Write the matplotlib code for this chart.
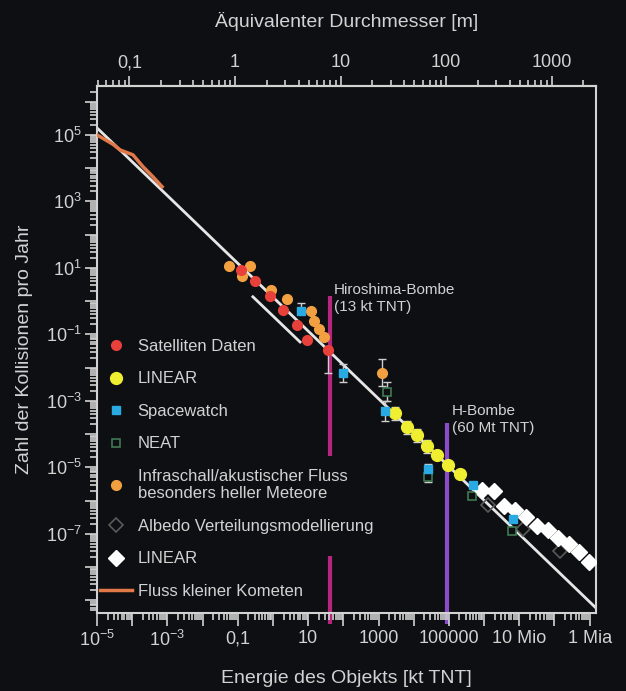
import numpy as np
import matplotlib.pyplot as plt
from matplotlib.lines import Line2D
from matplotlib.ticker import LogLocator, NullFormatter

plt.rcParams['font.family'] = ['Liberation Sans', 'DejaVu Sans']
plt.rcParams['mathtext.default'] = 'regular'

BG = '#0e0f12'
FG = '#d2d2d2'

# all values as log10 (energy in kt TNT, collisions per year)
sat_logE = [-0.91, -0.51, -0.09, 0.28, 0.68, 0.97, 1.56]
sat_logN = [0.95, 0.59, 0.14, -0.26, -0.71, -1.16, -1.47]

infra_logE = [-1.25, -0.65, -0.88, -0.06, 0.40, 1.08, 1.16, 1.31, 1.45, 3.10]
infra_logN = [1.06, 1.06, 0.76, 0.34, 0.07, -0.29, -0.59, -0.83, -1.07, -2.15]

sw_logE = [0.81, 1.98, 3.18, 4.41, 5.69, 6.83]
sw_logN = [-0.31, -2.16, -3.31, -5.06, -5.54, -6.56]

neat_logE = [3.24, 4.40, 5.65, 6.79]
neat_logN = [-2.72, -5.30, -5.87, -6.92]

linear_logE = [3.47, 3.81, 4.09, 4.38, 4.66, 4.97, 5.31]
linear_logN = [-3.38, -3.80, -4.04, -4.37, -4.64, -4.94, -5.21]

linear2_logE = [5.94, 6.28, 6.56, 6.88, 7.19, 7.50, 7.81, 8.10, 8.41, 8.69, 8.98]
linear2_logN = [-5.69, -5.72, -6.17, -6.29, -6.50, -6.77, -6.89, -7.13, -7.31, -7.55, -7.85]

albedo_logE = [6.11, 7.10, 8.15]
albedo_logN = [-6.14, -6.86, -7.52]

comet_logE = [-5.0, -4.55, -4.35, -3.98, -3.69, -3.41, -3.15]
comet_logN = [5.0, 4.72, 4.55, 4.40, 4.04, 3.74, 3.44]

# power law fit and the short satellite band line
fit_logE = [-5.0, 9.15]
fit_logN = [5.21, -9.20]
band_logE = [-0.57, 0.77]
band_logN = [0.13, -1.23]

# error bars (decades below / above)
err_logE = [1.56, 0.81, 1.98, 3.10, 3.24, 3.18, 3.47, 3.81, 4.09, 4.38, 4.41, 4.40]
err_logN = [-1.47, -0.31, -2.16, -2.15, -2.72, -3.31, -3.38, -3.80, -4.04, -4.37, -5.06, -5.30]
err_lo = [0.70, 0.0, 0.27, 0.40, 0.30, 0.30, 0.2, 0.2, 0.2, 0.2, 0.15, 0.15]
err_hi = [0.10, 0.25, 0.27, 0.40, 0.30, 0.30, 0.2, 0.2, 0.2, 0.2, 0.15, 0.15]

# reference explosions
hiro_logE = 1.62
hiro_segments = [(0.14, -4.67), (-7.67, -9.70)]
hbomb_logE = 4.94
hbomb_top = -3.66

x_ticks_exp = list(range(-5, 10))
x_labels = {-5: '$10^{-5}$', -3: '$10^{-3}$', -1: '0,1', 1: '10', 3: '1000',
            5: '100000', 7: '10 Mio', 9: '1 Mia'}
y_ticks_exp = list(range(-9, 7))
d_ticks = [0.1, 1, 10, 100, 1000]
d_labels = ['0,1', '1', '10', '100', '1000']
E1 = 10 ** -1.08  # kt TNT for a 1 m object

p = lambda v: 10 ** np.asarray(v, dtype=float)

fig = plt.figure(figsize=(6.26, 6.91), dpi=100, facecolor=BG)
ax = fig.add_axes([0.155, 0.113, 0.797, 0.7625])
ax.set_facecolor(BG)
ax.set_xscale('log')
ax.set_yscale('log')

ax.plot(p(fit_logE), p(fit_logN), color='#e6e6e6', lw=2, zorder=2)
ax.plot(p(band_logE), p(band_logN), color='#e6e6e6', lw=2, zorder=2)
ax.plot(p(comet_logE), p(comet_logN), color='#e07848', lw=2.5, zorder=3)

for y0, y1 in hiro_segments:
    ax.plot([10 ** hiro_logE] * 2, [10 ** y0, 10 ** y1], color='#b5267c', lw=3,
            zorder=1, clip_on=False, solid_capstyle='butt')
ax.plot([10 ** hbomb_logE] * 2, [10 ** hbomb_top, 10 ** -9.70], color='#8a4cc8', lw=3,
        zorder=1, clip_on=False, solid_capstyle='butt')

N_err = p(err_logN)
ax.errorbar(p(err_logE), N_err,
            yerr=[N_err - N_err / p(err_lo), N_err * p(err_hi) - N_err],
            fmt='none', ecolor='#cfcfcf', elinewidth=1, capsize=3, zorder=3)

ax.plot(p(albedo_logE), p(albedo_logN), 'D', ms=7, mfc='none', mec='#5a5a5a', mew=1.2, zorder=4)
ax.plot(p(neat_logE), p(neat_logN), 's', ms=6, mfc=BG, mec='#3f7a52', mew=1.2, zorder=4)
ax.plot(p(linear2_logE), p(linear2_logN), 'D', ms=8, color='white', zorder=5)
ax.plot(p(linear_logE), p(linear_logN), 'o', ms=8.5, color='#f0ee30', zorder=5)
ax.plot(p(infra_logE), p(infra_logN), 'o', ms=7, color='#f3a040', zorder=5)
ax.plot(p(sat_logE), p(sat_logN), 'o', ms=7, color='#e8403a', zorder=6)
ax.plot(p(sw_logE), p(sw_logN), 's', ms=6, color='#2aaae2', zorder=6)

ax.text(10 ** 1.73, 10 ** 0.07, 'Hiroshima-Bombe\n(13 kt TNT)', color=FG, fontsize=11,
        va='center', ha='left', linespacing=1.3)
ax.text(10 ** 5.09, 10 ** -3.57, 'H-Bombe\n(60 Mt TNT)', color=FG, fontsize=11,
        va='center', ha='left', linespacing=1.3)

handles = [
    Line2D([], [], ls='none', marker='o', ms=7, color='#e8403a'),
    Line2D([], [], ls='none', marker='o', ms=8.5, color='#f0ee30'),
    Line2D([], [], ls='none', marker='s', ms=6, color='#2aaae2'),
    Line2D([], [], ls='none', marker='s', ms=6, mfc=BG, mec='#3f7a52', mew=1.2),
    Line2D([], [], ls='none', marker='o', ms=7, color='#f3a040'),
    Line2D([], [], ls='none', marker='D', ms=7, mfc='none', mec='#5a5a5a', mew=1.2),
    Line2D([], [], ls='none', marker='D', ms=8, color='white'),
    Line2D([], [], color='#e07848', lw=2.5),
]
labels = ['Satelliten Daten', 'LINEAR', 'Spacewatch', 'NEAT',
          'Infraschall/akustischer Fluss\nbesonders heller Meteore',
          'Albedo Verteilungsmodellierung', 'LINEAR', 'Fluss kleiner Kometen']
leg = ax.legend(handles, labels, loc='upper left', bbox_to_anchor=(0.006, 0.520),
                frameon=False, fontsize=12, labelcolor=FG, labelspacing=1.05,
                handlelength=1.9, handletextpad=0.35, borderpad=0, borderaxespad=0)

for s in ax.spines.values():
    s.set_color(FG)
    s.set_linewidth(1.5)

ax.set_xticks(p(x_ticks_exp), [x_labels.get(k, '') for k in x_ticks_exp])
ax.set_yticks(p(y_ticks_exp), ['$10^{%d}$' % k if (k % 2 and -7 <= k <= 5) else ''
                               for k in y_ticks_exp])
ax.set_xlim(1e-5, 10 ** 9.18)
ax.set_ylim(10 ** -9.38, 10 ** 6.47)
for a in (ax.xaxis, ax.yaxis):
    a.set_minor_locator(LogLocator(base=10, subs=np.arange(2, 10), numticks=300))
    a.set_minor_formatter(NullFormatter())
ax.tick_params(which='both', colors=FG, direction='out', width=1.2, labelsize=13)
ax.tick_params(which='major', length=9)
ax.tick_params(which='minor', length=5)
ax.tick_params(axis='y', pad=2)

ax.set_xlabel('Energie des Objekts [kt TNT]', color=FG, fontsize=14, labelpad=14)
ax.set_ylabel('Zahl der Kollisionen pro Jahr', color=FG, fontsize=14, labelpad=9)

sec = ax.secondary_xaxis('top', functions=(lambda e: np.cbrt(np.asarray(e) / E1),
                                           lambda d: E1 * np.asarray(d) ** 3))
sec.set_xticks(d_ticks, d_labels)
sec.xaxis.set_minor_locator(LogLocator(base=10, subs=np.arange(2, 10), numticks=100))
sec.xaxis.set_minor_formatter(NullFormatter())
sec.tick_params(which='both', colors=FG, direction='out', width=1.2, labelsize=13)
sec.tick_params(which='major', length=7)
sec.tick_params(which='minor', length=4)
sec.spines['top'].set_color(FG)
sec.spines['top'].set_linewidth(1.5)
sec.set_xlabel('Äquivalenter Durchmesser [m]', color=FG, fontsize=14, labelpad=20)

fig.savefig('out.png', dpi=100, facecolor=BG)
